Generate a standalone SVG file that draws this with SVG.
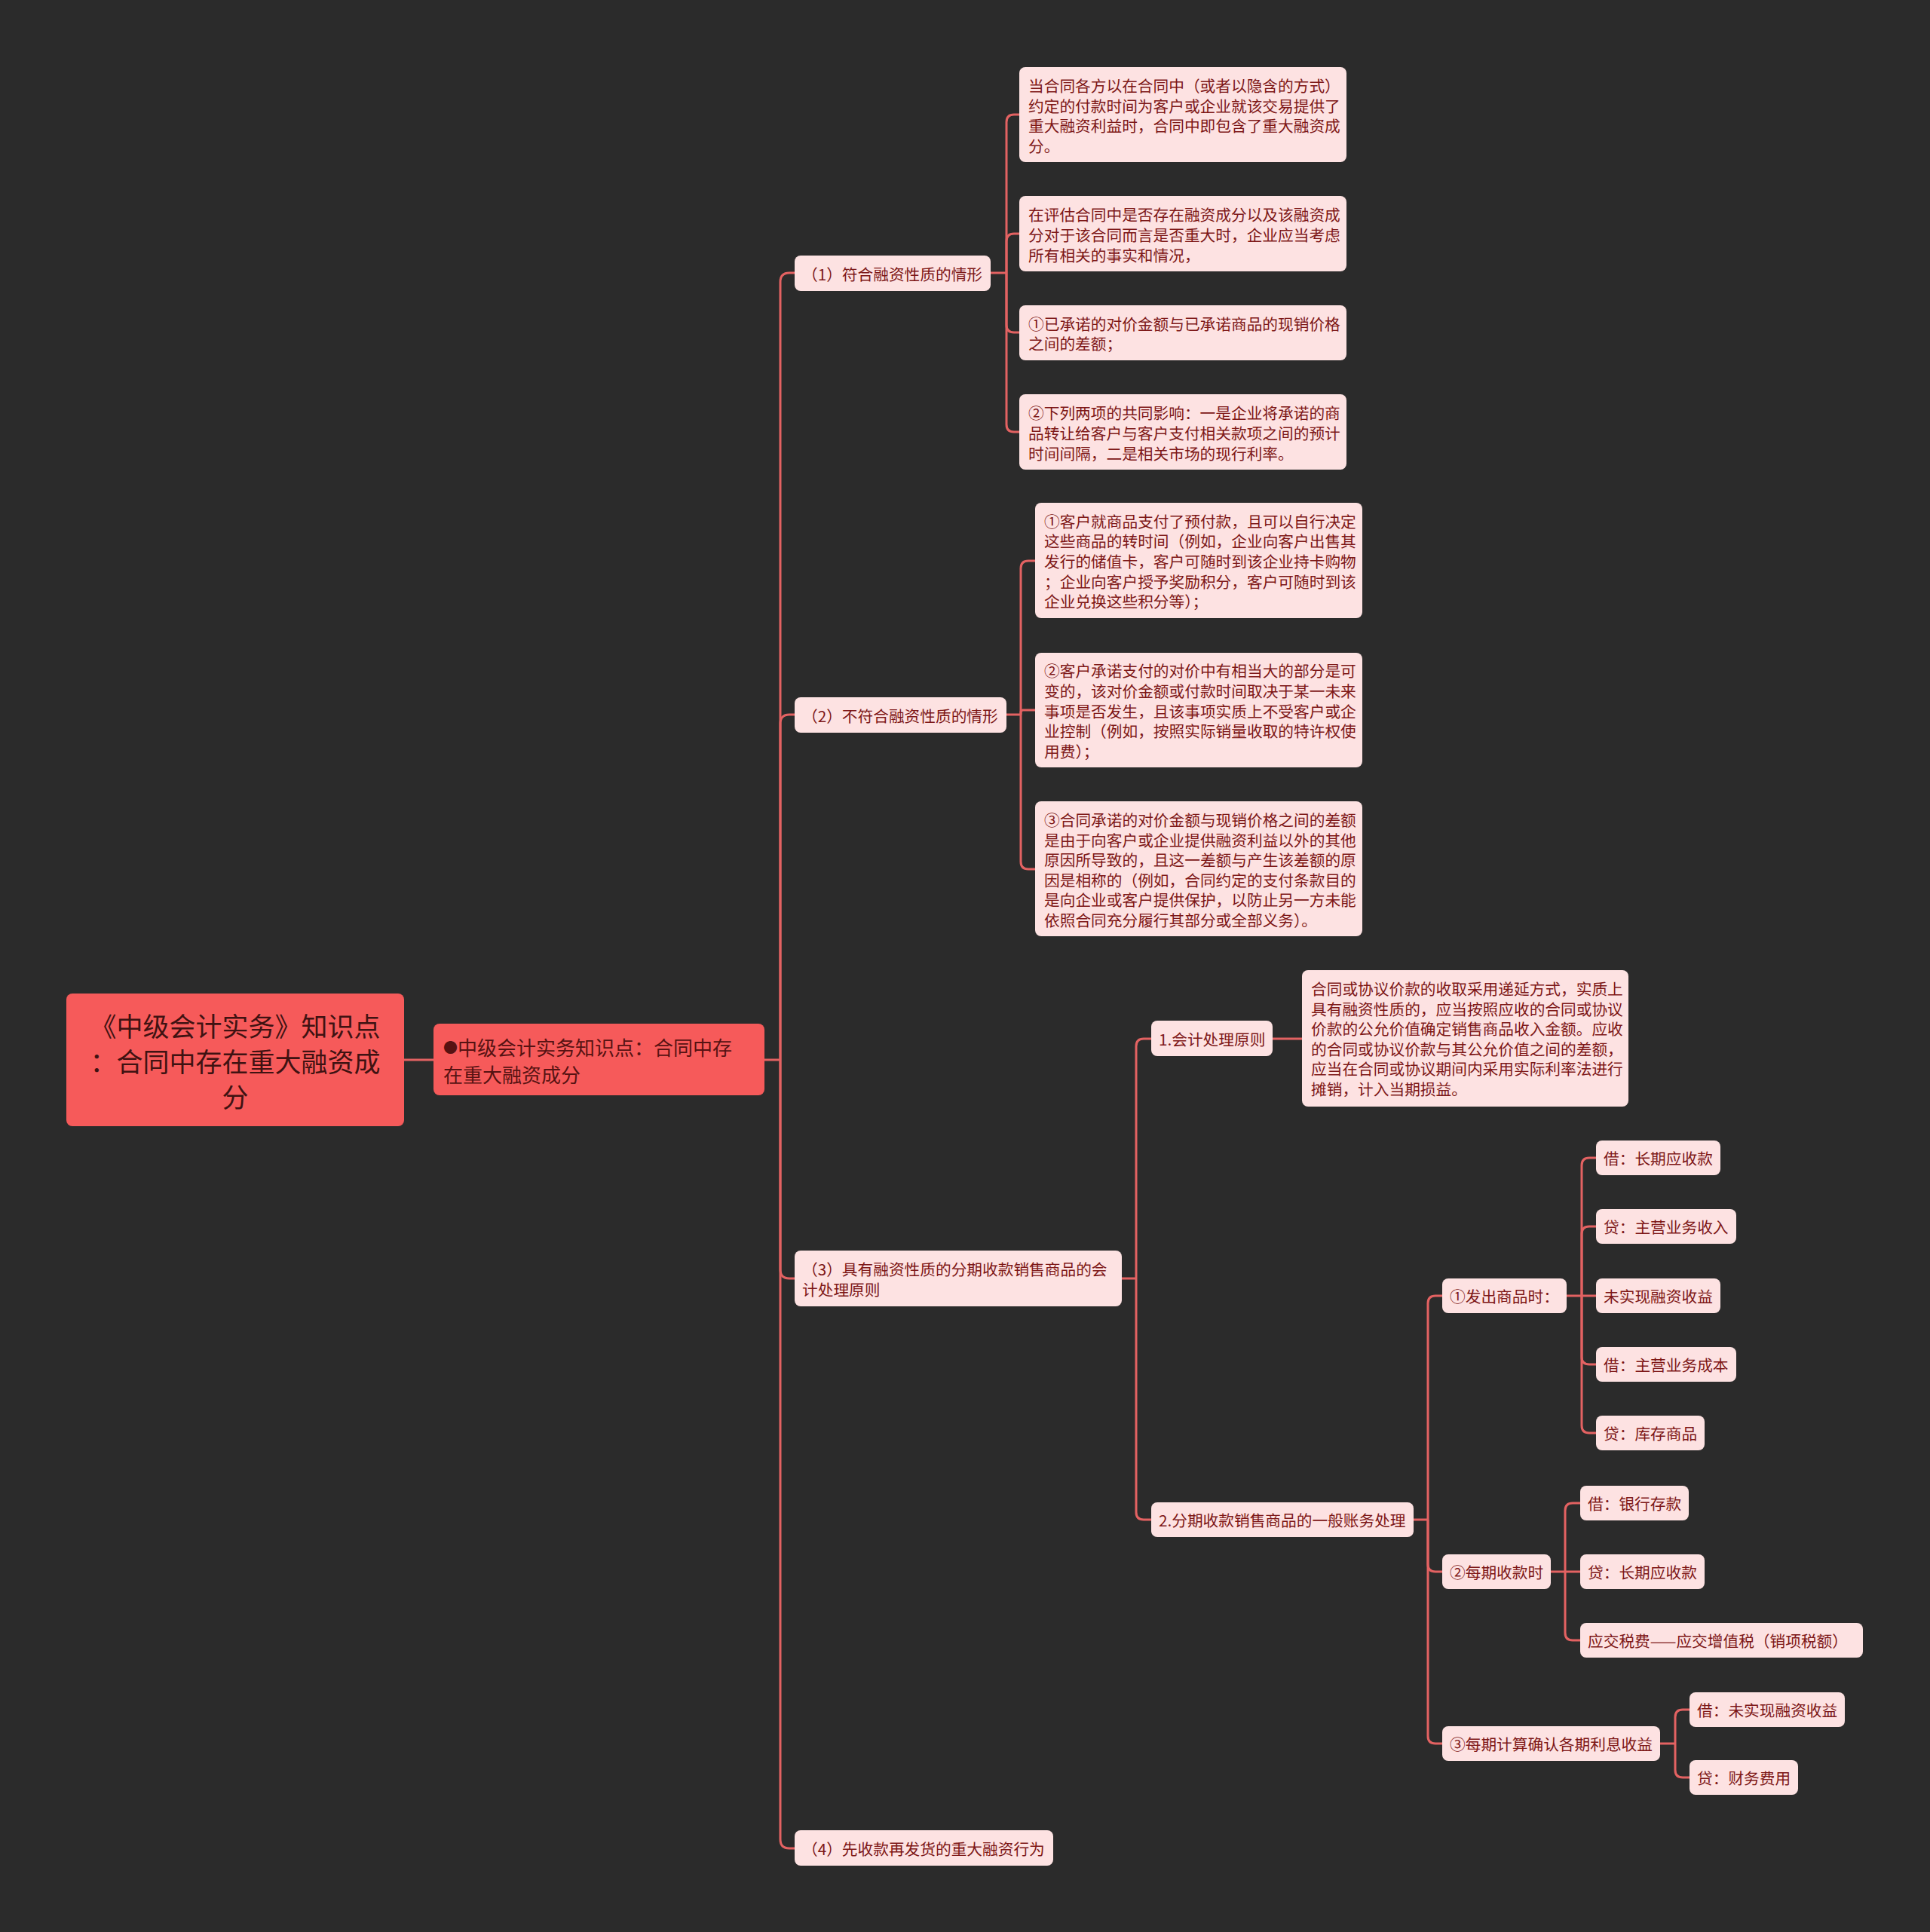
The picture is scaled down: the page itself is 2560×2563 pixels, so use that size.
<svg xmlns="http://www.w3.org/2000/svg" width="2560" height="2563" viewBox="0 0 2560 2563">
<style>
.box{fill:#fde2e2;}
.main{fill:#f65a5a;}
.t{font-family:"Noto Sans CJK SC","Noto Sans",sans-serif;font-size:20.7px;fill:#7d1717;dominant-baseline:central;}
.tr{font-family:"Noto Sans CJK SC","Noto Sans",sans-serif;font-size:35px;fill:#3f1212;dominant-baseline:central;text-anchor:middle;}
.t1{font-family:"Noto Sans CJK SC","Noto Sans",sans-serif;font-size:26px;fill:#561212;dominant-baseline:central;}
.bul{font-size:19px;}
.conn path{fill:none;stroke:#e36262;stroke-width:3;}
</style>
<rect x="0" y="0" width="2560" height="2563" fill="#2b2b2b"/>
<g class="conn" id="connectors">
<path d="M536,1406 H575"/>
<path d="M1014,1406 H1035"/>
<path d="M1035,1406 V374 Q1035,362 1047,362 H1054"/>
<path d="M1035,1406 V960 Q1035,948 1047,948 H1054"/>
<path d="M1035,1406 V1684 Q1035,1696 1047,1696 H1054"/>
<path d="M1035,1406 V2440 Q1035,2452 1047,2452 H1054"/>
<path d="M1314,362 H1335"/>
<path d="M1335,362 V162 Q1335,152 1345,152 H1352"/>
<path d="M1335,362 V320 Q1335,310 1345,310 H1352"/>
<path d="M1335,362 V431 Q1335,441 1345,441 H1352"/>
<path d="M1335,362 V563 Q1335,573 1345,573 H1352"/>
<path d="M1335,948 H1354"/>
<path d="M1354,948 V754 Q1354,744 1364,744 H1373"/>
<path d="M1354,948 V945 Q1354,942 1357,942 H1373"/>
<path d="M1354,948 V1143 Q1354,1153 1364,1153 H1373"/>
<path d="M1488,1696 H1507"/>
<path d="M1507,1696 V1388 Q1507,1378 1517,1378 H1527"/>
<path d="M1507,1696 V2006 Q1507,2016 1517,2016 H1527"/>
<path d="M1688,1378 H1727"/>
<path d="M1875,2016 H1894"/>
<path d="M1894,2016 V1729 Q1894,1719 1904,1719 H1913"/>
<path d="M1894,2016 V2075 Q1894,2085 1904,2085 H1913"/>
<path d="M1894,2016 V2303 Q1894,2313 1904,2313 H1913"/>
<path d="M2078,1719 H2117"/>
<path d="M2098,1719 V1546 Q2098,1536 2108,1536 H2117"/>
<path d="M2098,1719 V1637 Q2098,1627 2108,1627 H2117"/>
<path d="M2098,1719 V1800 Q2098,1810 2108,1810 H2117"/>
<path d="M2098,1719 V1891 Q2098,1901 2108,1901 H2117"/>
<path d="M2057,2085 H2096"/>
<path d="M2076,2085 V2004 Q2076,1994 2086,1994 H2096"/>
<path d="M2076,2085 V2166 Q2076,2176 2086,2176 H2096"/>
<path d="M2202,2313 H2222"/>
<path d="M2222,2313 V2278 Q2222,2268 2232,2268 H2241"/>
<path d="M2222,2313 V2348 Q2222,2358 2232,2358 H2241"/>
</g>
<g id="root">
<rect class="main" x="88" y="1318" width="448" height="176" rx="8"/>
<text class="tr" x="312" y="1359">《中级会计实务》知识点</text>
<text class="tr" x="312" y="1406">：合同中存在重大融资成</text>
<text class="tr" x="312" y="1453">分</text>
</g>
<g id="l1">
<rect class="main" x="575" y="1358" width="439" height="95" rx="8"/>
<text class="t1" x="588" y="1388"><tspan class="bul">●</tspan>中级会计实务知识点：合同中存</text>
<text class="t1" x="588" y="1424">在重大融资成分</text>
</g>
<g id="n1">
<rect class="box" x="1054" y="339" width="260" height="47" rx="8"/>
<text class="t" x="1064" y="362.5">（1）符合融资性质的情形</text>
</g>
<g id="n1a">
<rect class="box" x="1352" y="89" width="434" height="126" rx="8"/>
<text class="t" x="1364" y="113">当合同各方以在合同中（或者以隐含的方式）</text>
<text class="t" x="1364" y="139.6">约定的付款时间为客户或企业就该交易提供了</text>
<text class="t" x="1364" y="166.2">重大融资利益时，合同中即包含了重大融资成</text>
<text class="t" x="1364" y="192.8">分。</text>
</g>
<g id="n1b">
<rect class="box" x="1352" y="260" width="434" height="100" rx="8"/>
<text class="t" x="1364" y="284.4">在评估合同中是否存在融资成分以及该融资成</text>
<text class="t" x="1364" y="311">分对于该合同而言是否重大时，企业应当考虑</text>
<text class="t" x="1364" y="337.6">所有相关的事实和情况，</text>
</g>
<g id="n1c">
<rect class="box" x="1352" y="405" width="434" height="73" rx="8"/>
<text class="t" x="1364" y="428.7">①已承诺的对价金额与已承诺商品的现销价格</text>
<text class="t" x="1364" y="455.3">之间的差额；</text>
</g>
<g id="n1d">
<rect class="box" x="1352" y="523" width="434" height="100" rx="8"/>
<text class="t" x="1364" y="547.4">②下列两项的共同影响：一是企业将承诺的商</text>
<text class="t" x="1364" y="574">品转让给客户与客户支付相关款项之间的预计</text>
<text class="t" x="1364" y="600.6">时间间隔，二是相关市场的现行利率。</text>
</g>
<g id="n2">
<rect class="box" x="1054" y="925" width="281" height="47" rx="8"/>
<text class="t" x="1064" y="948.5">（2）不符合融资性质的情形</text>
</g>
<g id="n2a">
<rect class="box" x="1373" y="667" width="434" height="153" rx="8"/>
<text class="t" x="1385" y="690.8">①客户就商品支付了预付款，且可以自行决定</text>
<text class="t" x="1385" y="717.4">这些商品的转时间（例如，企业向客户出售其</text>
<text class="t" x="1385" y="744">发行的储值卡，客户可随时到该企业持卡购物</text>
<text class="t" x="1385" y="770.6">；企业向客户授予奖励积分，客户可随时到该</text>
<text class="t" x="1385" y="797.2">企业兑换这些积分等）；</text>
</g>
<g id="n2b">
<rect class="box" x="1373" y="866" width="434" height="152" rx="8"/>
<text class="t" x="1385" y="889.3">②客户承诺支付的对价中有相当大的部分是可</text>
<text class="t" x="1385" y="915.9">变的，该对价金额或付款时间取决于某一未来</text>
<text class="t" x="1385" y="942.5">事项是否发生，且该事项实质上不受客户或企</text>
<text class="t" x="1385" y="969.1">业控制（例如，按照实际销量收取的特许权使</text>
<text class="t" x="1385" y="995.7">用费）；</text>
</g>
<g id="n2c">
<rect class="box" x="1373" y="1063" width="434" height="179" rx="8"/>
<text class="t" x="1385" y="1087">③合同承诺的对价金额与现销价格之间的差额</text>
<text class="t" x="1385" y="1113.6">是由于向客户或企业提供融资利益以外的其他</text>
<text class="t" x="1385" y="1140.2">原因所导致的，且这一差额与产生该差额的原</text>
<text class="t" x="1385" y="1166.8">因是相称的（例如，合同约定的支付条款目的</text>
<text class="t" x="1385" y="1193.4">是向企业或客户提供保护，以防止另一方未能</text>
<text class="t" x="1385" y="1220">依照合同充分履行其部分或全部义务）。</text>
</g>
<g id="n3">
<rect class="box" x="1054" y="1659" width="434" height="74" rx="8"/>
<text class="t" x="1064" y="1683">（3）具有融资性质的分期收款销售商品的会</text>
<text class="t" x="1064" y="1709.6">计处理原则</text>
</g>
<g id="n3a">
<rect class="box" x="1527" y="1354" width="161" height="47" rx="8"/>
<text class="t" x="1537" y="1377.5">1.会计处理原则</text>
</g>
<g id="n3a1">
<rect class="box" x="1727" y="1287" width="433" height="181" rx="8"/>
<text class="t" x="1739" y="1311">合同或协议价款的收取采用递延方式，实质上</text>
<text class="t" x="1739" y="1337.6">具有融资性质的，应当按照应收的合同或协议</text>
<text class="t" x="1739" y="1364.2">价款的公允价值确定销售商品收入金额。应收</text>
<text class="t" x="1739" y="1390.8">的合同或协议价款与其公允价值之间的差额，</text>
<text class="t" x="1739" y="1417.4">应当在合同或协议期间内采用实际利率法进行</text>
<text class="t" x="1739" y="1444">摊销，计入当期损益。</text>
</g>
<g id="n3b">
<rect class="box" x="1527" y="1993" width="348" height="46" rx="8"/>
<text class="t" x="1537" y="2016">2.分期收款销售商品的一般账务处理</text>
</g>
<g id="s1">
<rect class="box" x="1913" y="1696" width="165" height="46" rx="8"/>
<text class="t" x="1923" y="1719">①发出商品时：</text>
</g>
<g id="s1a">
<rect class="box" x="2117" y="1513" width="165" height="46" rx="8"/>
<text class="t" x="2127" y="1536">借：长期应收款</text>
</g>
<g id="s1b">
<rect class="box" x="2117" y="1604" width="186" height="46" rx="8"/>
<text class="t" x="2127" y="1627">贷：主营业务收入</text>
</g>
<g id="s1c">
<rect class="box" x="2117" y="1696" width="165" height="46" rx="8"/>
<text class="t" x="2127" y="1719">未实现融资收益</text>
</g>
<g id="s1d">
<rect class="box" x="2117" y="1787" width="186" height="46" rx="8"/>
<text class="t" x="2127" y="1810">借：主营业务成本</text>
</g>
<g id="s1e">
<rect class="box" x="2117" y="1878" width="144" height="46" rx="8"/>
<text class="t" x="2127" y="1901">贷：库存商品</text>
</g>
<g id="s2">
<rect class="box" x="1913" y="2062" width="144" height="46" rx="8"/>
<text class="t" x="1923" y="2085">②每期收款时</text>
</g>
<g id="s2a">
<rect class="box" x="2096" y="1971" width="144" height="46" rx="8"/>
<text class="t" x="2106" y="1994">借：银行存款</text>
</g>
<g id="s2b">
<rect class="box" x="2096" y="2062" width="165" height="46" rx="8"/>
<text class="t" x="2106" y="2085">贷：长期应收款</text>
</g>
<g id="s2c">
<rect class="box" x="2096" y="2153" width="375" height="46" rx="8"/>
<text class="t" x="2106" y="2176">应交税费——应交增值税（销项税额）</text>
</g>
<g id="s3">
<rect class="box" x="1913" y="2290" width="289" height="46" rx="8"/>
<text class="t" x="1923" y="2313">③每期计算确认各期利息收益</text>
</g>
<g id="s3a">
<rect class="box" x="2241" y="2245" width="206" height="46" rx="8"/>
<text class="t" x="2251" y="2268">借：未实现融资收益</text>
</g>
<g id="s3b">
<rect class="box" x="2241" y="2335" width="144" height="46" rx="8"/>
<text class="t" x="2251" y="2358">贷：财务费用</text>
</g>
<g id="n4">
<rect class="box" x="1054" y="2428" width="343" height="47" rx="8"/>
<text class="t" x="1064" y="2451.5">（4）先收款再发货的重大融资行为</text>
</g>
</svg>
